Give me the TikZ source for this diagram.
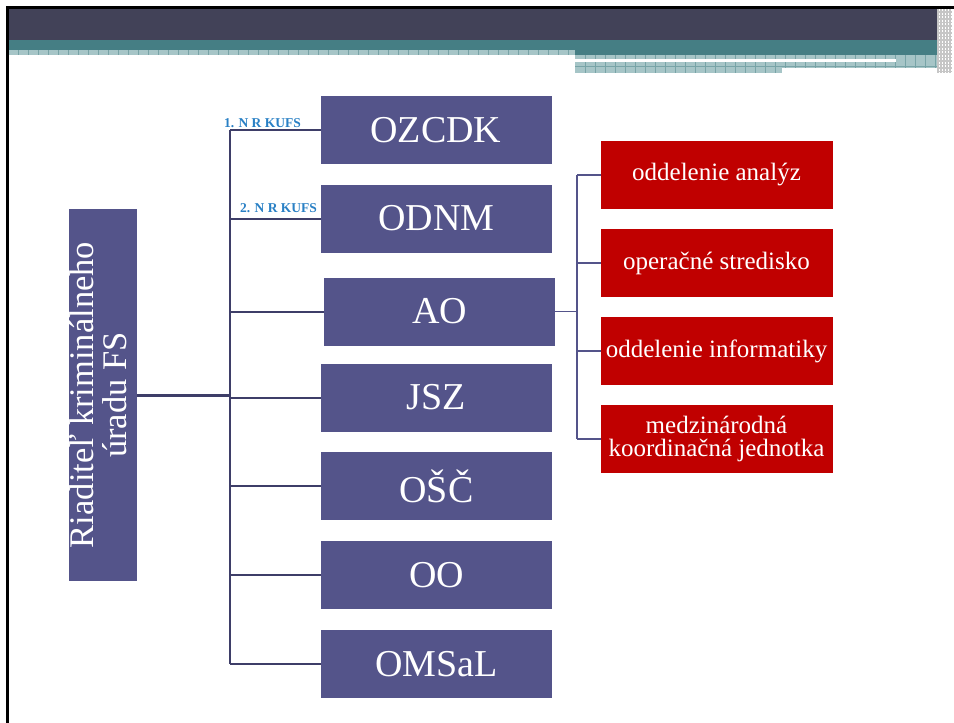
\documentclass[tikz,border=0pt]{standalone}
\usepackage{fontspec}
\usepackage{graphicx}
\setmainfont{Liberation Serif}
\definecolor{hdr}{RGB}{66,66,88}
\definecolor{hdr-teal}{RGB}{69,126,132}
\definecolor{hdr-tile}{RGB}{166,197,199}
\definecolor{hdr-grid}{RGB}{120,164,167}
\definecolor{unit}{RGB}{84,84,138}
\definecolor{dept}{RGB}{192,0,0}
\definecolor{line}{RGB}{62,62,104}
\definecolor{sub-line}{RGB}{84,84,138}
\definecolor{nr}{RGB}{41,128,197}
\usetikzlibrary{
  positioning     % red boxes below each other
}
\tikzset{
  node distance=20pt and 20pt,
  every node/.style = {
    rectangle,
    inner sep = 0pt,
    outer sep = 0pt
  },
  headbox/.style = {fill = unit, text = white, minimum width=68pt, minimum height=372pt,
    font=\fontsize{34.5}{33}\selectfont},
  unitbox/.style = {fill = unit, text = white, minimum width=231pt, minimum height=68pt,
    font=\fontsize{38}{40}\selectfont},
  deptbox/.style = {fill = dept, text = white, minimum width=232pt, minimum height=68pt,
    align=center, font=\fontsize{25}{23}\selectfont},
  nrlabel/.style = {text = nr, font=\bfseries\fontsize{13.5}{13.5}\selectfont},
  connector/.style = {draw = line, line width=2pt},
  trunklink/.style = {draw = line, line width=2.4pt},
  rootlink/.style = {draw = line, line width=3pt},
  sublink/.style = {draw = sub-line, line width=1.9pt}
}

\begin{document}
\begin{tikzpicture}[x=1pt, y=-1pt]
% slide background and header
\fill[white] (0,0) rectangle (954,723);
\useasboundingbox (0,0) rectangle (954,723);
\fill[black] (6,6) rectangle (954,9.3);
\fill[black] (6,6) rectangle (8.7,723);
\fill[hdr] (8.7,9.3) rectangle (952,40);
\fill[hdr-teal] (8.7,40) rectangle (952,50);
\fill[hdr-teal] (575,50) rectangle (952,55);
\fill[hdr-tile] (8.7,50) rectangle (575,55);
\foreach \x in {18,28,...,568} \draw[hdr-grid, line width=0.8pt] (\x,50) -- (\x,55);
\fill[hdr-tile] (575,55) rectangle (952,73);
\foreach \x in {585,595,...,945} \draw[hdr-grid, line width=0.8pt] (\x,55) -- (\x,73);
\draw[hdr-grid, line width=0.8pt] (575,66) -- (952,66);
\fill[white] (575,59) rectangle (896,61.5);
\fill[white] (782,68) rectangle (952,73);
% noisy strip on the right
\fill[gray!45] (937,9.3) rectangle (952,73);
\foreach \x in {939,942,...,951} \draw[white, line width=0.7pt, dash pattern=on 2pt off 1.5pt] (\x,9.3) -- (\x,73);

% boxes
\node[headbox] (root) at (103,395)
  {\rotatebox{90}{\begin{tabular}{@{}c@{}}Riaditeľ kriminálneho\\úradu FS\end{tabular}}};

\node[unitbox] (ozcdk) at (436,130)   {OZCDK};
\node[unitbox] (odnm)  at (436.5,218.5) {ODNM};
\node[unitbox] (ao)    at (439.5,311.5) {AO};
\node[unitbox] (jsz)   at (436.5,397.5) {JSZ};
\node[unitbox] (osc)   at (436.5,486) {OŠČ};
\node[unitbox] (oo)    at (436.5,575) {OO};
\node[unitbox] (omsal) at (436.5,664) {OMSaL};

\node[deptbox] (analyz) at (716.5,175) {oddelenie analýz};
\node[deptbox, below=of analyz] (opstr) {operačné stredisko};
\node[deptbox, below=of opstr]  (info)  {oddelenie informatiky};
\node[deptbox, below=of info]   (mkj)   {medzinárodná\\koordinačná jednotka};

\node[nrlabel, anchor=south west] (nr1) at (224,127.5) {1. N R KUFS};
\node[nrlabel, anchor=south east] (nr2) at (317,213) {2. N R KUFS};

% connectors
\coordinate (fork) at (230,395);
\coordinate (aofork) at (577,311.5);
\draw[rootlink] (root.east) -- (fork);
\draw[trunklink] (fork |- ozcdk) -- (fork |- omsal);
\foreach \n in {ozcdk,odnm,ao,jsz,osc,oo,omsal}
  \draw[connector] (fork |- \n) -- (\n.west);

\draw[sublink] (ao.east) -- (aofork);
\draw[sublink] (aofork |- analyz) -- (aofork |- mkj);
\foreach \n in {analyz,opstr,info,mkj}
  \draw[sublink] (aofork |- \n) -- (\n.west);
\end{tikzpicture}
\end{document}
